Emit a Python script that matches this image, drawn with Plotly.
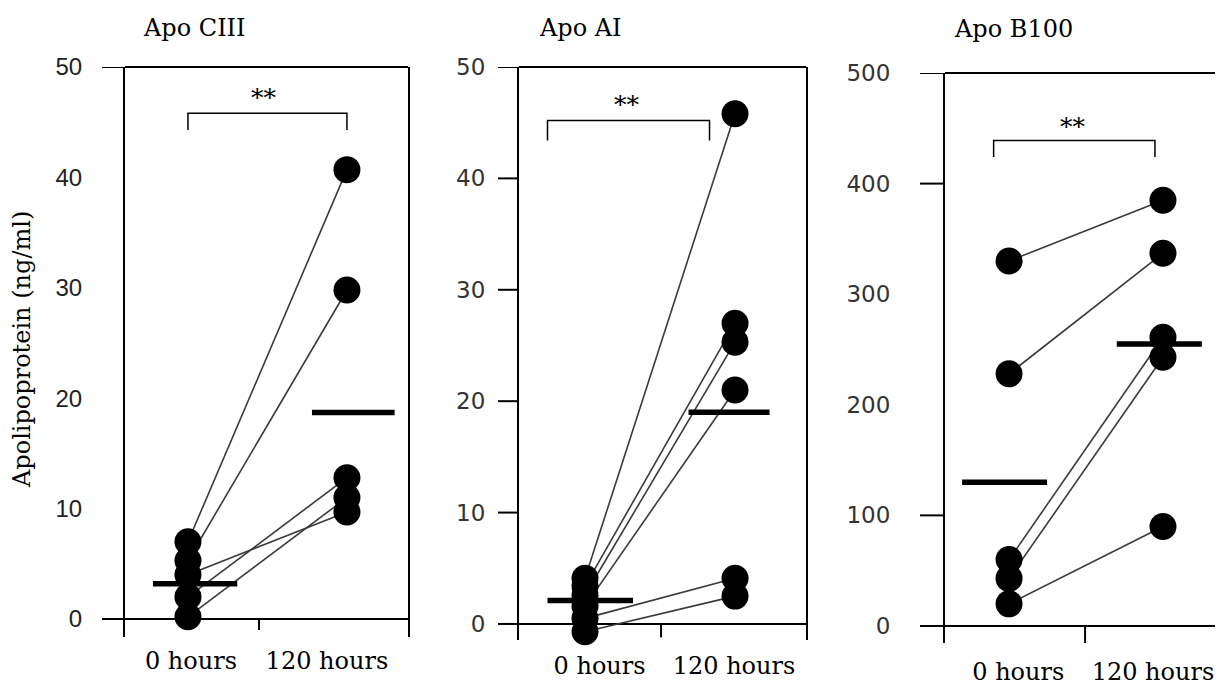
import plotly.graph_objects as go

# ---------------- data ----------------
categories = ["0 hours", "120 hours"]
panel_titles = ["Apo CIII", "Apo AI", "Apo B100"]
y_title = "Apolipoprotein (ng/ml)"
significance = "**"

apoc3_0h = [7.0, 5.3, 4.0, 2.0, 0.2]
apoc3_120h = [40.7, 29.8, 9.7, 12.8, 11.0]
apoc3_mean = [3.2, 18.7]

apoa1_0h = [4.1, 3.4, 2.6, 1.6, 0.5, -0.7]
apoa1_120h = [45.8, 27.0, 25.3, 21.0, 4.1, 2.5]
apoa1_mean = [2.1, 19.0]

apob100_0h = [330, 228, 60, 43, 20]
apob100_120h = [385, 337, 261, 243, 90]
apob100_mean = [130, 255]

yticks_small = [0, 10, 20, 30, 40, 50]
yticks_large = [0, 100, 200, 300, 400, 500]

# ---------------- layout config (pixels of the 1223x686 page) ----------------
W, H = 1223, 686
OFF = 8                      # default body margin of the html page
FW, FH = W - OFF, H - OFF    # figure size
SERIF = "DejaVu Serif"


def px_x(px):
    return (px - OFF) / FW


def px_y(py):
    return 1 - (py - OFF) / FH


panels = [
    dict(before=apoc3_0h, after=apoc3_120h, mean=apoc3_mean, title=panel_titles[0],
         xpx=(125, 408), ypx=(67, 637), yrange=(-1.63, 50), xrange=(-0.396, 1.384),
         yticks=yticks_small, tickmarks=[0, 50], ticklen=23,
         tickfont=dict(family="Liberation Sans", size=24, color="#222"), standoff=36,
         labelx=[0.019, 0.874], xstandoff=7, mid=0.447, midlow=-1.0,
         mean_ext=[(-0.22, 0.31), (-0.22, 0.30)],
         bracket=(0.0, 1.0, 45.8, 44.3), star=(0.48, 47.2), title_px=(195, 28)),
    dict(before=apoa1_0h, after=apoa1_120h, mean=apoa1_mean, title=panel_titles[1],
         xpx=(519, 806), ypx=(67, 640), yrange=(-1.44, 50), xrange=(-0.44, 1.473),
         yticks=yticks_small, tickmarks=yticks_small, ticklen=21,
         tickfont=dict(family="DejaVu Sans", size=23, color="#333"), standoff=27,
         labelx=[0.097, 0.993], xstandoff=9, mid=0.507, midlow=-1.2,
         mean_ext=[(-0.25, 0.32), (-0.31, 0.23)],
         bracket=(-0.25, 0.83, 45.2, 43.4), star=(0.28, 46.6), title_px=(580, 28)),
    dict(before=apob100_0h, after=apob100_120h, mean=apob100_mean, title=panel_titles[2],
         xpx=(945, 1223), ypx=(73, 643), yrange=(-15.4, 500), xrange=(-0.416, 1.39),
         yticks=yticks_large, tickmarks=[0, 100, 400, 500], ticklen=25,
         tickfont=dict(family="DejaVu Sans", size=23, color="#333"), standoff=48,
         labelx=[0.06, 0.935], xstandoff=12, mid=0.494, midlow=-15.4,
         mean_ext=[(-0.305, 0.247), (-0.30, 0.253)],
         bracket=(-0.10, 0.948, 439, 424), star=(0.416, 452), title_px=(1013, 29)),
]

fig = go.Figure()
shapes = []
annotations = []

for i, p in enumerate(panels):
    n = "" if i == 0 else str(i + 1)
    xa, ya = "x" + n, "y" + n
    xk, yk = "xaxis" + n, "yaxis" + n

    # paired lines
    for b, a in zip(p["before"], p["after"]):
        fig.add_trace(go.Scatter(x=[0, 1], y=[b, a], mode="lines",
                                 line=dict(color="#3a3a3a", width=1.6),
                                 xaxis=xa, yaxis=ya, showlegend=False, hoverinfo="skip"))
    # points
    fig.add_trace(go.Scatter(x=[0] * len(p["before"]) + [1] * len(p["after"]),
                             y=list(p["before"]) + list(p["after"]), mode="markers",
                             marker=dict(color="black", size=27, line=dict(width=0)),
                             xaxis=xa, yaxis=ya, showlegend=False, cliponaxis=False))
    # mean bars
    for k, m in enumerate(p["mean"]):
        lo, hi = p["mean_ext"][k]
        fig.add_trace(go.Scatter(x=[k + lo, k + hi], y=[m, m], mode="lines",
                                 line=dict(color="black", width=5.5),
                                 xaxis=xa, yaxis=ya, showlegend=False, hoverinfo="skip"))

    x0, x1 = p["xpx"]
    yt, yb = p["ypx"]
    fig.update_layout(**{
        xk: dict(domain=[px_x(x0), min(px_x(x1), 1.0)], range=list(p["xrange"]), anchor=ya,
                 showline=False, showgrid=False, zeroline=False, ticks="",
                 tickmode="array", tickvals=p["labelx"], ticktext=categories,
                 tickfont=dict(family=SERIF, size=24, color="black"),
                 ticklabelstandoff=p["xstandoff"], automargin=False, fixedrange=True),
        yk: dict(domain=[px_y(yb), px_y(yt)], range=list(p["yrange"]), anchor=xa,
                 showline=True, mirror=True, linecolor="black", linewidth=2,
                 showgrid=False, zeroline=True, zerolinecolor="black", zerolinewidth=2,
                 ticks="", tickmode="array", tickvals=p["yticks"],
                 tickfont=p["tickfont"],
                 ticklabelstandoff=p["standoff"], automargin=False, fixedrange=True),
    })

    dom_w = min(x1, W) - x0
    # top frame line
    shapes.append(dict(type="line", xref=xa + " domain", yref=ya + " domain",
                       x0=0, x1=1, y0=1, y1=1, line=dict(color="black", width=2)))
    # y tick marks
    for tv in p["tickmarks"]:
        shapes.append(dict(type="line", xref=xa + " domain", yref=ya,
                           x0=-p["ticklen"] / dom_w, x1=0, y0=tv, y1=tv,
                           line=dict(color="black", width=2)))
    # middle x tick
    shapes.append(dict(type="line", xref=xa, yref=ya, x0=p["mid"], x1=p["mid"],
                       y0=0, y1=p["midlow"], line=dict(color="black", width=2)))
    # significance bracket
    bx0, bx1, by, bdrop = p["bracket"]
    shapes.append(dict(type="path", xref=xa, yref=ya,
                       path=f"M {bx0} {bdrop} L {bx0} {by} L {bx1} {by} L {bx1} {bdrop}",
                       line=dict(color="black", width=1.5)))
    annotations.append(dict(x=p["star"][0], y=p["star"][1], xref=xa, yref=ya,
                            text=significance, showarrow=False,
                            font=dict(family=SERIF, size=25, color="black")))
    # panel title
    annotations.append(dict(x=px_x(p["title_px"][0]), y=px_y(p["title_px"][1]),
                            xref="paper", yref="paper", text=p["title"], showarrow=False,
                            xanchor="center", yanchor="middle",
                            font=dict(family=SERIF, size=24, color="black")))

annotations.append(dict(x=px_x(22), y=px_y(350), xref="paper", yref="paper",
                        text=y_title, textangle=-90, showarrow=False,
                        xanchor="center", yanchor="middle",
                        font=dict(family=SERIF, size=24, color="black")))

fig.update_layout(width=FW, height=FH, margin=dict(l=0, r=0, t=0, b=0),
                  paper_bgcolor="white", plot_bgcolor="white",
                  shapes=shapes, annotations=annotations, showlegend=False)

fig.write_html("out.html")
